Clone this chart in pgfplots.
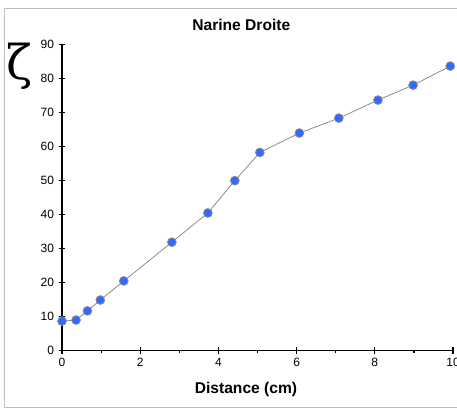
\documentclass[border=0pt]{standalone}
\usepackage{pgfplots}
\pgfplotsset{compat=1.18}
\usepackage{fontspec}
\setmainfont{Liberation Sans}
\newfontfamily\zetafont{DejaVu Serif}
\definecolor{ptblue}{RGB}{50,105,255}
\definecolor{linegray}{RGB}{140,140,140}
\definecolor{framegray}{RGB}{190,190,190}
\begin{document}
\begin{tikzpicture}
\path[use as bounding box, clip] (0pt,0pt) rectangle (342.75pt,306.75pt);
\draw[framegray, line width=1pt] (3.2pt,1pt) rectangle (390pt,300.5pt);
\begin{axis}[
  at={(46.5pt,44.0pt)}, anchor=south west,
  scale only axis, width=293.25pt, height=229.5pt,
  xmin=0, xmax=10, ymin=0, ymax=90,
  axis lines=left, axis line style={-, line width=1pt, black},
  clip=false,
  xtick={0,2,4,6,8,10}, minor xtick={1,3,5,7,9},
  ytick={0,10,20,30,40,50,60,70,80,90},
  tick align=center, major tick length=5pt, minor tick length=2pt,
  every tick/.style={black, line width=0.9pt},
  every minor tick/.style={black, line width=0.9pt, yshift=-1pt},
  tick label style={font=\fontsize{9}{10}\selectfont},
  /pgf/number format/assume math mode=true,
]
\addplot[linegray, line width=0.6pt, mark=*, mark size=3.3pt,
  mark options={fill=ptblue, draw=none}] coordinates {
  (0,8.6) (0.36,8.9) (0.65,11.6) (0.98,14.8) (1.58,20.4) (2.81,31.8)
  (3.73,40.4) (4.42,49.9) (5.06,58.2) (6.07,63.9) (7.08,68.3)
  (8.08,73.6) (8.98,78.0) (9.93,83.6)
};
\end{axis}
\node[anchor=base, font=\bfseries\fontsize{11.7}{13}\selectfont] at (181pt,283.7pt) {Narine Droite};
\node[anchor=base, font=\bfseries\fontsize{11.7}{13}\selectfont] at (184.5pt,11.8pt) {Distance (cm)};
\node[anchor=center, inner sep=0pt, font=\zetafont\fontsize{36}{40}\selectfont] at (14.5pt,257pt) {ζ};
\end{tikzpicture}
\end{document}
